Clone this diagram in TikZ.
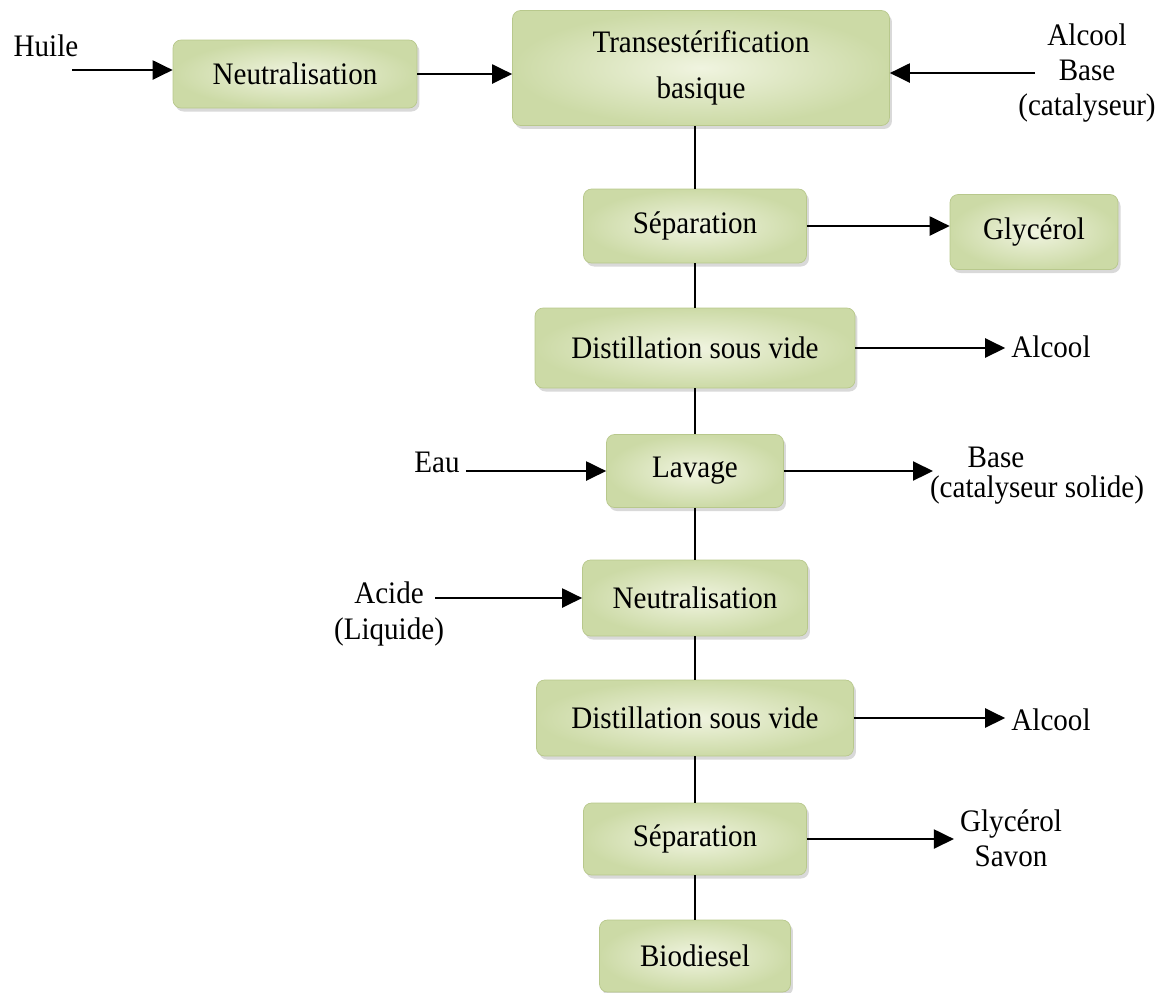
\documentclass[tikz,border=0pt]{standalone}
\usepackage{fontspec}
\setmainfont{Liberation Serif}[FakeStretch=0.93]
\usetikzlibrary{arrows.meta,shadows}
\definecolor{vertclair}{RGB}{240,244,224}
\definecolor{vertfonce}{RGB}{204,218,166}
\definecolor{vertbord}{RGB}{184,200,140}

\begin{document}
\begin{tikzpicture}[x = 0.02cm, y = -0.02cm,
    every node/.style = {font = \fontsize{17.8}{20}\selectfont, text = black},
    etape/.style = {draw = vertbord, line width = 0.4pt, rounded corners = 1.6mm,
        inner color = vertclair, outer color = vertfonce, align = center, inner sep = 0pt,
        drop shadow = {shadow xshift = 0.5mm, shadow yshift = -0.7mm, opacity = 0.3},
        minimum height = 1.48cm},
    trait/.style = {draw, line width = 1.2pt},
    fleche/.style = {draw, line width = 1.2pt, -{Triangle[length = 4mm, width = 3.8mm]}}]
            \useasboundingbox(0,0)rectangle(1158,992);
            %étapes
            \node[etape, minimum width = 4.88cm, minimum height = 1.36cm](neutA)at(295,74){Neutralisation};
            \node[etape, minimum width = 7.54cm, minimum height = 2.3cm](trans)at(701,68){Transestérification\\[6pt]basique};
            \node[etape, minimum width = 4.46cm](sepA)at(695,226){Séparation};
            \node[etape, minimum width = 3.36cm, minimum height = 1.5cm](glyc)at(1034,232){Glycérol};
            \node[etape, minimum width = 6.4cm, minimum height = 1.6cm](distA)at(695,348){Distillation sous vide};
            \node[etape, minimum width = 3.54cm, minimum height = 1.46cm](lav)at(695,471){Lavage};
            \node[etape, minimum width = 4.5cm, minimum height = 1.52cm](neutB)at(695,598){Neutralisation};
            \node[etape, minimum width = 6.34cm, minimum height = 1.52cm](distB)at(695,718){Distillation sous vide};
            \node[etape, minimum width = 4.46cm, minimum height = 1.44cm](sepB)at(695,839){Séparation};
            \node[etape, minimum width = 3.82cm, minimum height = 1.44cm](bio)at(695,956){Biodiesel};
            %axe
            \path[trait](trans.south -| sepA)to(sepA.north);
            \path[trait](sepA.south)to(distA.north);
            \path[trait](distA.south)to(lav.north);
            \path[trait](lav.south)to(neutB.north);
            \path[trait](neutB.south)to(distB.north);
            \path[trait](distB.south)to(sepB.north);
            \path[trait](sepB.south)to(bio.north);
            %entrées
            \node(huile)at(46,46){Huile};
            \coordinate(huileF)at(72,70);
            \path[fleche](huileF)to(huileF -| neutA.west);
            \path[fleche](neutA.east)to(neutA.east -| trans.west);
            \node[align = center](reactifs)at(1087,73){Alcool\\Base\\(catalyseur)};
            \coordinate(reactifsF)at(1035,73);
            \path[fleche](reactifsF)to(reactifsF -| trans.east);
            \node(eau)at(437,462){Eau};
            \path[fleche](lav.west -| eau.east)to(lav.west);
            \node[align = center](acide)at(389,614){Acide\\(Liquide)};
            \coordinate(acideF)at(435,598);
            \path[fleche](acideF)to(neutB.west);
            %sorties
            \path[fleche](sepA.east)to(sepA.east -| glyc.west);
            \node(alcA)at(1051,347){Alcool};
            \path[fleche](distA.east)to(distA.east -| alcA.west);
            \node(baseB)at(996,457){Base};
            \node(catB)at(1037,490){(catalyseur solide)};
            \coordinate(baseF)at(933,471);
            \path[fleche](lav.east)to(baseF);
            \node(alcB)at(1051,720){Alcool};
            \path[fleche](distB.east)to(distB.east -| alcB.west);
            \node[align = center](sorties)at(1011,838){Glycérol\\Savon};
            \path[fleche](sepB.east)to(sepB.east -| sorties.west);
\end{tikzpicture}
\end{document}
